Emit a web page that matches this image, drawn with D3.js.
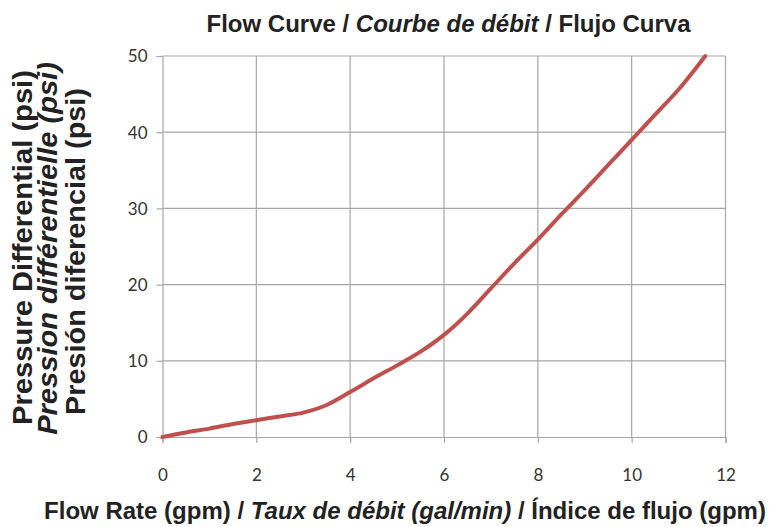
<!DOCTYPE html>
<html><head><meta charset="utf-8">
<script src="https://cdn.jsdelivr.net/npm/d3@7"></script>
<style>body{margin:0;background:#fff;}svg{display:block;}</style>
</head><body>
<script>
const flowRate = [0, 0.5, 1, 1.5, 2, 2.5, 3, 3.5, 4, 4.5, 5, 5.5, 6, 6.5, 7, 7.5, 8, 8.5, 9, 9.5, 10, 10.5, 11, 11.57];
const pressure = [0, 0.6, 1.1, 1.7, 2.2, 2.7, 3.2, 4.2, 5.9, 7.7, 9.4, 11.2, 13.4, 16.2, 19.5, 22.8, 25.9, 29.2, 32.4, 35.7, 39.0, 42.3, 45.6, 50];
const xTicks = [0, 2, 4, 6, 8, 10, 12];
const yTicks = [0, 10, 20, 30, 40, 50];

const W = 769, H = 527;
const svg = d3.select("body").append("svg").attr("width", W).attr("height", H);
const x = d3.scaleLinear().domain([0, 12]).range([162.5, 725.5]);
const y = d3.scaleLinear().domain([0, 50]).range([437, 56]);
const grid = "#a6a6a6";

// gridlines
svg.append("g").selectAll("line").data(xTicks.slice(1)).join("line")
  .attr("x1", d => x(d)).attr("x2", d => x(d)).attr("y1", y(0)).attr("y2", y(50))
  .attr("stroke", grid).attr("stroke-width", 1.2);
svg.append("g").selectAll("line").data(yTicks.slice(1)).join("line")
  .attr("x1", x(0)).attr("x2", x(12)).attr("y1", d => y(d)).attr("y2", d => y(d))
  .attr("stroke", grid).attr("stroke-width", 1.2);

// axes
const xAxis = svg.append("g").attr("transform", `translate(0,${y(0)})`)
  .call(d3.axisBottom(x).tickValues(xTicks).tickSize(6).tickPadding(26).tickFormat(d3.format("d")));
const yAxis = svg.append("g").attr("transform", `translate(${x(0)},0)`)
  .call(d3.axisLeft(y).tickValues(yTicks).tickSize(6).tickPadding(9).tickFormat(d3.format("d")));
[xAxis, yAxis].forEach(g => {
  g.select(".domain").attr("stroke", grid).attr("stroke-width", 1.2);
  g.selectAll(".tick line").attr("stroke", grid).attr("stroke-width", 1.2);
  g.selectAll(".tick text").attr("fill", "#333").attr("font-family", "Lato, 'Open Sans', sans-serif").attr("font-size", 17);
});
yAxis.selectAll(".tick text").attr("dy", "0.35em");

// curve
const pts = flowRate.map((v, i) => [v, pressure[i]]);
svg.append("path").datum(pts)
  .attr("d", d3.line().x(d => x(d[0])).y(d => y(d[1])).curve(d3.curveMonotoneX))
  .attr("fill", "none").attr("stroke", "#c0504d").attr("stroke-width", 4).attr("stroke-linecap", "round");

// title
const title = svg.append("text").attr("x", 448.5).attr("y", 31.5).attr("text-anchor", "middle")
  .attr("font-family", "'Liberation Sans', Arial, sans-serif")
  .attr("font-weight", "bold").attr("font-size", 24).attr("fill", "#222");
title.append("tspan").text("Flow Curve / ");
title.append("tspan").attr("font-style", "italic").text("Courbe de débit");
title.append("tspan").text(" / Flujo Curva");

// x title
const xt = svg.append("text").attr("x", 405).attr("y", 519).attr("text-anchor", "middle")
  .attr("font-family", "'Liberation Sans', Arial, sans-serif")
  .attr("font-weight", "bold").attr("font-size", 24).attr("fill", "#222");
xt.append("tspan").text("Flow Rate (gpm) / ");
xt.append("tspan").attr("font-style", "italic").text("Taux de débit (gal/min)");
xt.append("tspan").text(" / Índice de flujo (gpm)");

// y title
const yLines = [
  {t: "Pressure Differential (psi)", it: false, x: 31.5, cy: 247.5, len: 355},
  {t: "Pression différentielle (psi)", it: true, x: 57, cy: 248.5, len: 373},
  {t: "Presión diferencial (psi)", it: false, x: 84.5, cy: 251.5, len: 327}
];
svg.append("g").selectAll("text").data(yLines).join("text")
  .attr("text-anchor", "middle")
  .attr("font-family", "'Liberation Sans', Arial, sans-serif")
  .attr("font-weight", "bold").attr("font-size", 27).attr("fill", "#222")
  .attr("font-style", d => d.it ? "italic" : "normal")
  .text(d => d.t)
  .each(function(d) {
    const L = this.getComputedTextLength();
    const s = L > 0 ? d.len / L : 1;
    d3.select(this).attr("transform", `translate(${d.x},${d.cy}) rotate(-90) scale(${s},1)`);
  });
</script>
</body></html>
